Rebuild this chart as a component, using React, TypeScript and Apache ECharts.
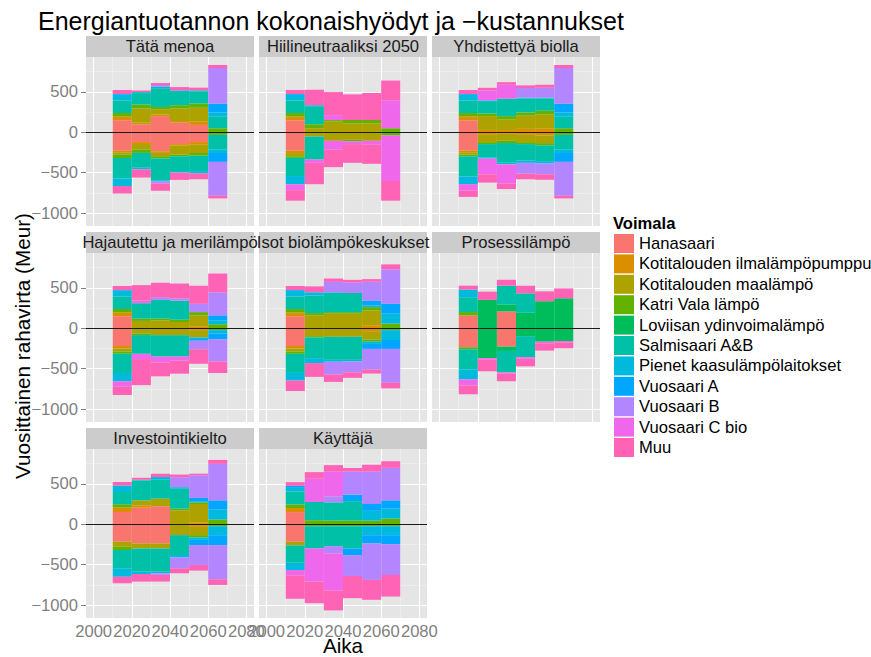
import React, { useEffect, useRef } from 'react';
import * as echarts from 'echarts';

const years = [2015, 2025, 2035, 2045, 2055, 2065];
const plants = [
  'Hanasaari', 'Kotitalouden ilmalämpöpumppu', 'Kotitalouden maalämpö', 'Katri Vala lämpö',
  'Loviisan ydinvoimalämpö', 'Salmisaari A&B', 'Pienet kaasulämpölaitokset', 'Vuosaari A',
  'Vuosaari B', 'Vuosaari C bio', 'Muu',
];
const colors = ['#F8766D', '#DB8E00', '#AEA200', '#64B200', '#00BD5C', '#00C1A7', '#00BADE', '#00A6FF', '#B385FF', '#EF67EB', '#FF63B6'];
const panelNames = [
  'Tätä menoa', 'Hiilineutraaliksi 2050', 'Yhdistettyä biolla',
  'Hajautettu ja merilämpö', 'Isot biolämpökeskukset', 'Prosessilämpö',
  'Investointikielto', 'Käyttäjä',
];
const xTicks = [2000, 2020, 2040, 2060, 2080];
const xMinor = [2010, 2030, 2050, 2070];
const yTicks = [-1000, -500, 0, 500];
const yMinor = [-750, -250, 250, 750];

// rows: plants (same order as `plants`), columns: years; benefits (+) and costs (shown below zero)
const tataMenoaPos = [
  [147, 98, 199, 118, 90, 0], [40, 20, 20, 20, 41, 0], [10, 175, 65, 155, 171, 0], [40, 49, 28, 41, 53, 49],
  [0, 0, 0, 0, 0, 0], [155, 142, 232, 163, 151, 142], [70, 12, 20, 20, 12, 53], [10, 0, 0, 0, 0, 110],
  [0, 0, 20, 0, 0, 440], [0, 0, 0, 0, 0, 0], [50, 20, 24, 41, 33, 37],
];
const tataMenoaNeg = [
  [228, 122, 236, 147, 122, 0], [20, 24, 20, 16, 33, 0], [30, 69, 41, 114, 102, 0], [40, 41, 28, 20, 33, 33],
  [0, 0, 0, 0, 0, 0], [256, 183, 269, 183, 191, 183], [90, 20, 16, 20, 28, 41], [0, 0, 0, 0, 0, 110],
  [0, 0, 24, 0, 0, 419], [0, 0, 0, 0, 0, 0], [94, 102, 90, 90, 73, 33],
];
const hiiliPos = [
  [147, 0, 0, 0, 0, 0], [40, 0, 0, 0, 0, 0], [10, 49, 130, 110, 110, 0], [40, 49, 20, 41, 41, 49],
  [0, 0, 0, 0, 0, 0], [155, 216, 0, 0, 0, 0], [70, 20, 0, 0, 0, 0], [10, 0, 0, 0, 0, 0],
  [0, 0, 0, 0, 0, 0], [0, 0, 61, 0, 0, 346], [50, 191, 285, 317, 334, 244],
];
const hiiliNeg = [
  [228, 0, 0, 0, 0, 0], [30, 0, 0, 0, 0, 0], [40, 53, 106, 94, 106, 0], [20, 0, 0, 20, 0, 41],
  [0, 0, 0, 0, 0, 0], [224, 285, 0, 0, 0, 0], [102, 0, 0, 0, 0, 0], [0, 0, 0, 0, 0, 0],
  [0, 0, 0, 0, 0, 0], [73, 41, 110, 33, 49, 562], [130, 264, 216, 232, 236, 244],
];
const yhdistettyPos = [
  [147, 0, 0, 0, 0, 0], [40, 28, 28, 41, 49, 0], [10, 171, 130, 163, 171, 0], [40, 33, 41, 41, 45, 49],
  [0, 0, 0, 0, 0, 0], [155, 142, 216, 171, 151, 142], [70, 20, 0, 12, 12, 53], [10, 0, 0, 0, 0, 110],
  [0, 0, 0, 118, 122, 440], [0, 122, 171, 0, 0, 0], [50, 33, 33, 33, 37, 37],
];
const yhdistettyNeg = [
  [228, 0, 0, 0, 0, 0], [20, 33, 20, 33, 41, 0], [30, 90, 86, 90, 94, 0], [20, 24, 28, 24, 28, 33],
  [0, 0, 0, 0, 0, 0], [250, 163, 244, 204, 195, 183], [94, 16, 20, 28, 28, 41], [0, 0, 0, 0, 0, 110],
  [0, 0, 0, 134, 134, 419], [77, 195, 236, 0, 0, 0], [81, 102, 69, 69, 69, 33],
];
const hajautettuPos = [
  [147, 0, 0, 0, 0, 0], [40, 0, 0, 0, 24, 0], [10, 90, 98, 77, 134, 0], [40, 28, 20, 28, 41, 49],
  [0, 0, 0, 0, 0, 0], [155, 191, 232, 236, 0, 0], [70, 0, 0, 0, 0, 49], [10, 0, 0, 0, 0, 61],
  [0, 0, 33, 28, 102, 285], [0, 33, 0, 0, 0, 0], [50, 191, 179, 183, 224, 232],
];
const hajautettuNeg = [
  [220, 0, 0, 0, 0, 0], [30, 0, 0, 0, 24, 0], [39, 65, 86, 86, 90, 0], [28, 20, 0, 0, 0, 24],
  [0, 0, 0, 0, 0, 0], [236, 232, 265, 265, 0, 0], [102, 0, 0, 0, 20, 41], [0, 0, 0, 0, 21, 73],
  [0, 0, 0, 0, 106, 273], [69, 65, 73, 49, 0, 0], [102, 322, 171, 163, 179, 143],
];
const isotPos = [
  [147, 0, 0, 0, 0, 0], [40, 0, 0, 0, 37, 0], [10, 159, 179, 179, 183, 0], [40, 28, 20, 20, 41, 57],
  [0, 0, 0, 0, 0, 0], [155, 216, 236, 236, 0, 0], [70, 41, 8, 0, 20, 122], [10, 0, 0, 0, 61, 122],
  [0, 0, 130, 130, 232, 427], [0, 0, 0, 0, 0, 0], [50, 73, 41, 33, 33, 61],
];
const isotNeg = [
  [220, 0, 0, 0, 0, 0], [30, 0, 0, 0, 45, 0], [39, 98, 106, 106, 94, 0], [28, 16, 0, 0, 28, 24],
  [0, 0, 0, 0, 0, 0], [236, 256, 285, 285, 0, 0], [94, 61, 24, 20, 28, 122], [0, 0, 0, 0, 61, 110],
  [0, 0, 159, 134, 256, 419], [0, 0, 0, 0, 0, 0], [130, 171, 90, 69, 49, 69],
];
const prosessiPos = [
  [159, 0, 208, 0, 0, 0], [0, 0, 0, 0, 0, 0], [0, 0, 0, 0, 0, 0], [41, 0, 0, 0, 0, 0],
  [0, 350, 86, 191, 334, 370], [183, 0, 232, 240, 0, 0], [94, 0, 0, 0, 0, 0], [0, 0, 0, 0, 0, 0],
  [0, 0, 0, 0, 0, 0], [0, 0, 0, 0, 0, 0], [49, 102, 73, 94, 122, 122],
];
const prosessiNeg = [
  [236, 0, 228, 0, 0, 0], [0, 0, 0, 0, 0, 0], [0, 0, 0, 0, 0, 0], [24, 0, 0, 0, 0, 0],
  [0, 370, 53, 98, 167, 159], [252, 0, 265, 260, 0, 0], [122, 0, 0, 0, 0, 0], [0, 0, 0, 0, 0, 0],
  [0, 0, 0, 0, 0, 0], [73, 20, 16, 20, 20, 16], [110, 143, 94, 94, 90, 73],
];
const investointiPos = [
  [152, 205, 222, 0, 0, 0], [53, 28, 0, 0, 20, 0], [0, 62, 94, 172, 230, 0], [41, 0, 0, 20, 20, 57],
  [0, 0, 0, 0, 0, 0], [152, 246, 234, 246, 0, 0], [82, 8, 33, 20, 15, 123], [0, 0, 0, 0, 40, 115],
  [0, 0, 0, 123, 280, 451], [0, 0, 0, 0, 0, 0], [41, 25, 41, 33, 20, 49],
];
const investointiNeg = [
  [217, 238, 238, 0, 0, 0], [0, 0, 0, 0, 33, 0], [62, 62, 62, 135, 102, 0], [41, 0, 0, 0, 29, 25],
  [0, 0, 0, 0, 0, 0], [226, 287, 287, 246, 0, 0], [103, 29, 20, 29, 30, 111], [0, 0, 0, 0, 64, 123],
  [0, 0, 20, 135, 246, 422], [0, 0, 0, 0, 0, 0], [82, 94, 82, 62, 70, 70],
];
const kayttajaPos = [
  [150, 0, 0, 0, 0, 0], [50, 0, 0, 0, 0, 0], [0, 0, 0, 0, 0, 0], [45, 49, 45, 45, 45, 70],
  [0, 0, 0, 0, 0, 0], [160, 226, 225, 240, 0, 0], [45, 0, 0, 0, 120, 123], [25, 0, 0, 80, 85, 102],
  [0, 0, 75, 285, 400, 402], [0, 287, 305, 0, 0, 0], [45, 82, 80, 45, 85, 82],
];
const kayttajaNeg = [
  [217, 0, 0, 0, 0, 0], [0, 0, 0, 0, 0, 0], [45, 0, 0, 0, 0, 0], [0, 25, 25, 25, 25, 25],
  [0, 0, 0, 0, 0, 0], [215, 275, 246, 275, 0, 0], [90, 0, 0, 0, 111, 111], [0, 0, 0, 82, 102, 111],
  [0, 0, 90, 258, 451, 381], [65, 410, 459, 0, 0, 0], [290, 267, 246, 275, 246, 267],
];

const panelData = [
  [tataMenoaPos, tataMenoaNeg], [hiiliPos, hiiliNeg], [yhdistettyPos, yhdistettyNeg],
  [hajautettuPos, hajautettuNeg], [isotPos, isotNeg], [prosessiPos, prosessiNeg],
  [investointiPos, investointiNeg], [kayttajaPos, kayttajaNeg],
];

const FONT = '"Liberation Sans", Arial, Helvetica, sans-serif';
const colLeft = [86, 259, 432];
const rowTop = [57, 253, 449];
const PW = 168;
const PH = 169;
const STRIP = 21;

const fmtY = (v: number) => (v < 0 ? '\u2212' + Math.abs(v) : String(v));
const fmtX = (v: number) => String(v);

export default function App() {
  const ref = useRef<HTMLDivElement>(null);
  useEffect(() => {
    if (!ref.current) return;
    const chart = echarts.init(ref.current, undefined, { renderer: 'svg' });
    const grids: any[] = [];
    const xAxes: any[] = [];
    const yAxes: any[] = [];
    const series: any[] = [];
    const graphics: any[] = [];

    panelNames.forEach((name, g) => {
      const col = g % 3;
      const row = Math.floor(g / 3);
      const left = colLeft[col];
      const top = rowTop[row];
      const showX = row === 2;
      const showY = col === 0;
      grids.push({ left, top, width: PW, height: PH, show: true, backgroundColor: '#E5E5E5', borderWidth: 0, containLabel: false });
      xAxes.push({
        type: 'value', gridIndex: g, min: 1996, max: 2084,
        axisLine: { show: false }, splitLine: { show: false },
        axisTick: { show: showX, customValues: xTicks, length: 5, lineStyle: { color: '#7F7F7F' } },
        axisLabel: {
          show: showX, customValues: xTicks, color: '#7F7F7F', fontSize: 16.6, lineHeight: 14, fontFamily: FONT,
          margin: 6, formatter: fmtX, showMinLabel: true, showMaxLabel: true, hideOverlap: false,
        },
      });
      yAxes.push({
        type: 'value', gridIndex: g, min: -1160, max: 930,
        axisLine: { show: false }, splitLine: { show: false },
        axisTick: { show: showY, customValues: yTicks, length: 5, lineStyle: { color: '#7F7F7F' } },
        axisLabel: {
          show: showY, customValues: yTicks, color: '#7F7F7F', fontSize: 16.6, fontFamily: FONT, margin: 8,
          formatter: fmtY, showMinLabel: true, showMaxLabel: true,
        },
      });
      const [pos, neg] = panelData[g];
      plants.forEach((p, i) => {
        const base = {
          type: 'bar', name: p, xAxisIndex: g, yAxisIndex: g, stack: 'panel' + g,
          barWidth: '100%', itemStyle: { color: colors[i] }, z: 2, silent: true,
          // value first so that stacking applies to the value dimension
          encode: { x: 1, y: 0 },
        };
        const sPos: any = { ...base, data: years.map((y, k) => [pos[i][k], y]) };
        const sNeg: any = { ...base, data: years.map((y, k) => [-neg[i][k], y]) };
        if (i === 0) {
          sPos.markLine = {
            silent: true, symbol: 'none', z: 1, animation: false,
            label: { show: false },
            data: [
              ...xMinor.map((v) => ({ xAxis: v, lineStyle: { color: '#F2F2F2', width: 0.6, type: 'solid' } })),
              ...yMinor.map((v) => ({ yAxis: v, lineStyle: { color: '#F2F2F2', width: 0.6, type: 'solid' } })),
              ...xTicks.map((v) => ({ xAxis: v, lineStyle: { color: '#FFFFFF', width: 1.1, type: 'solid' } })),
              ...yTicks.map((v) => ({ yAxis: v, lineStyle: { color: '#FFFFFF', width: 1.1, type: 'solid' } })),
            ],
          };
        }
        if (i === plants.length - 1) {
          sNeg.markLine = {
            silent: true, symbol: 'none', z: 10, animation: false,
            label: { show: false },
            data: [{ yAxis: 0, lineStyle: { color: '#1A1A1A', width: 1.1, type: 'solid' } }],
          };
        }
        series.push(sPos, sNeg);
      });
      graphics.push({
        type: 'rect', shape: { x: left, y: top - STRIP, width: PW, height: STRIP },
        style: { fill: '#CCCCCC' }, silent: true, z: 1,
      });
    });
    panelNames.forEach((name, g) => {
      const col = g % 3;
      const row = Math.floor(g / 3);
      graphics.push({
        type: 'text', x: colLeft[col] + PW / 2, y: rowTop[row] - STRIP / 2, z: 2, silent: true,
        style: { text: name, fontSize: 16.6, fontFamily: FONT, fill: '#1A1A1A', align: 'center', verticalAlign: 'middle', textAlign: 'center', textVerticalAlign: 'middle' },
      });
    });
    graphics.push(
      {
        type: 'text', x: 38, y: 21, silent: true,
        style: { text: 'Energiantuotannon kokonaishyödyt ja \u2212kustannukset', fontSize: 25, fontFamily: FONT, fill: '#000', align: 'left', verticalAlign: 'middle', textAlign: 'left', textVerticalAlign: 'middle' },
      },
      {
        type: 'text', x: 22, y: 346, rotation: Math.PI / 2, silent: true,
        style: { text: 'Vuosittainen rahavirta (Meur)', fontSize: 20.7, fontFamily: FONT, fill: '#000', align: 'center', verticalAlign: 'middle', textAlign: 'center', textVerticalAlign: 'middle' },
      },
      {
        type: 'text', x: 343, y: 645.5, silent: true,
        style: { text: 'Aika', fontSize: 20.7, fontFamily: FONT, fill: '#000', align: 'center', verticalAlign: 'middle', textAlign: 'center', textVerticalAlign: 'middle' },
      },
      {
        type: 'text', x: 613, y: 223, silent: true,
        style: { text: 'Voimala', fontSize: 16.6, fontWeight: 'bold', fontFamily: FONT, fill: '#000', align: 'left', verticalAlign: 'middle', textAlign: 'left', textVerticalAlign: 'middle' },
      },
    );

    chart.setOption({
      animation: false,
      backgroundColor: '#FFFFFF',
      grid: grids,
      xAxis: xAxes,
      yAxis: yAxes,
      series,
      legend: {
        data: plants, orient: 'vertical', left: 614, top: 234, itemWidth: 20, itemHeight: 19, itemGap: 1.4,
        icon: 'rect', selectedMode: false, padding: 0,
        textStyle: { fontSize: 16.6, color: '#000', fontFamily: FONT },
      },
      graphic: graphics,
    });
    return () => chart.dispose();
  }, []);
  return <div ref={ref} style={{ position: 'absolute', left: 0, top: 0, width: 871, height: 657, background: '#fff' }} />;
}
